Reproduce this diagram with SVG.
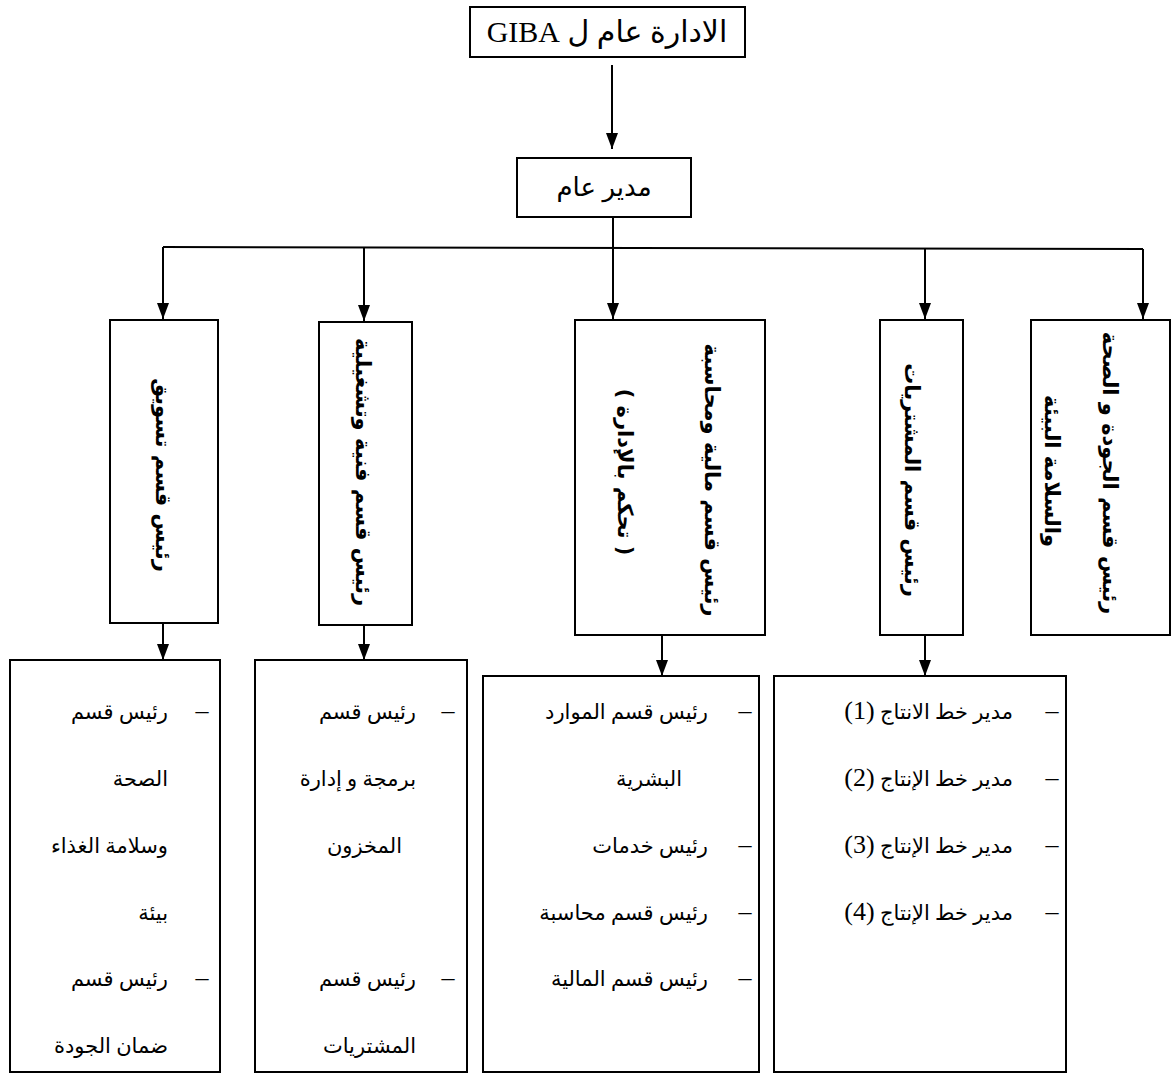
<svg xmlns="http://www.w3.org/2000/svg" width="1172" height="1077" viewBox="0 0 1172 1077">
<style>
.box{fill:#fff;stroke:#000;stroke-width:2}
.ln{fill:none;stroke:#000;stroke-width:2}
.t{font-family:"Liberation Serif","DejaVu Sans",serif;fill:#000}
.v{font-family:"DejaVu Sans",sans-serif;font-weight:bold;font-size:21px;fill:#000;text-anchor:middle;dominant-baseline:central}
.l{font-family:"Liberation Serif","DejaVu Sans",serif;font-size:21px;fill:#000;direction:rtl;text-anchor:start}
.n{font-size:26px}
.d{font-family:"Liberation Serif",serif;font-size:26px;fill:#000;text-anchor:middle}
</style>
<defs>
<marker id="ah" markerUnits="userSpaceOnUse" markerWidth="16" markerHeight="12" refX="16" refY="6" orient="auto">
<path d="M0,0 L16,6 L0,12 z" fill="#000"/>
</marker>
</defs>
<rect width="1172" height="1077" fill="#fff"/>
<g id="connectors">
<line class="ln" x1="612" y1="65" x2="612" y2="149" marker-end="url(#ah)"/>
<line class="ln" x1="613" y1="217" x2="613" y2="248"/>
<line class="ln" x1="163" y1="247" x2="1143" y2="249"/>
<line class="ln" x1="163" y1="247" x2="163" y2="319" marker-end="url(#ah)"/>
<line class="ln" x1="364" y1="247" x2="364" y2="321" marker-end="url(#ah)"/>
<line class="ln" x1="613" y1="248" x2="613" y2="319" marker-end="url(#ah)"/>
<line class="ln" x1="925" y1="248" x2="925" y2="319" marker-end="url(#ah)"/>
<line class="ln" x1="1143" y1="249" x2="1143" y2="319" marker-end="url(#ah)"/>
<line class="ln" x1="163" y1="623" x2="163" y2="660" marker-end="url(#ah)"/>
<line class="ln" x1="364" y1="625" x2="364" y2="660" marker-end="url(#ah)"/>
<line class="ln" x1="662" y1="635" x2="662" y2="676" marker-end="url(#ah)"/>
<line class="ln" x1="925" y1="635" x2="925" y2="676" marker-end="url(#ah)"/>
</g>
<g id="n-top">
<rect class="box" x="470" y="7" width="275" height="50"/>
<text class="t" x="607" y="42" font-size="30" text-anchor="middle" direction="rtl">الادارة عام ل GIBA</text>
</g>
<g id="n-gm">
<rect class="box" x="517" y="158" width="174" height="59"/>
<text class="t" x="604" y="196" font-size="26" text-anchor="middle" direction="rtl">مدير عام</text>
</g>
<g id="n-marketing">
<rect class="box" x="110" y="320" width="108" height="303"/>
<text class="v" transform="rotate(90 163 475)" x="163" y="475">رئيس قسم تسويق</text>
</g>
<g id="n-tech">
<rect class="box" x="319" y="322" width="93" height="303"/>
<text class="v" transform="rotate(90 363 472)" x="363" y="472">رئيس قسم فنية وتشغيلية</text>
</g>
<g id="n-finance">
<rect class="box" x="575" y="320" width="190" height="315"/>
<text class="v" transform="rotate(90 712 480)" x="712" y="480">رئيس قسم مالية ومحاسبة</text>
<text class="v" transform="rotate(90 625 472)" x="625" y="472">( تحكم بالإدارة )</text>
</g>
<g id="n-purchase">
<rect class="box" x="880" y="320" width="83" height="315"/>
<text class="v" transform="rotate(90 912 480)" x="912" y="480">رئيس قسم المشتريات</text>
</g>
<g id="n-quality">
<rect class="box" x="1031" y="320" width="139" height="315"/>
<text class="v" transform="rotate(90 1110 473)" x="1110" y="473">رئيس قسم الجودة و الصحة</text>
<text class="v" transform="rotate(90 1052 471)" x="1052" y="471">والسلامة البيئة</text>
</g>
<g id="n-sub1">
<rect class="box" x="10" y="660" width="210" height="412"/>
<text class="d" x="202" y="719">–</text>
<text class="l" x="168" y="719">رئيس قسم</text>
<text class="l" x="168" y="786">الصحة</text>
<text class="l" x="168" y="853">وسلامة الغذاء</text>
<text class="l" x="168" y="920">بيئة</text>
<text class="d" x="202" y="986">–</text>
<text class="l" x="168" y="986">رئيس قسم</text>
<text class="l" x="168" y="1053">ضمان الجودة</text>
</g>
<g id="n-sub2">
<rect class="box" x="255" y="660" width="212" height="412"/>
<text class="d" x="448" y="719">–</text>
<text class="l" x="416" y="719">رئيس قسم</text>
<text class="l" x="416" y="786">برمجة و إدارة</text>
<text class="l" x="402" y="853">المخزون</text>
<text class="d" x="448" y="986">–</text>
<text class="l" x="416" y="986">رئيس قسم</text>
<text class="l" x="416" y="1053">المشتريات</text>
</g>
<g id="n-sub3">
<rect class="box" x="483" y="676" width="276" height="396"/>
<text class="d" x="745" y="719">–</text>
<text class="l" x="708" y="719">رئيس قسم الموارد</text>
<text class="l" x="682" y="786">البشرية</text>
<text class="d" x="745" y="853">–</text>
<text class="l" x="708" y="853">رئيس خدمات</text>
<text class="d" x="745" y="920">–</text>
<text class="l" x="708" y="920">رئيس قسم محاسبة</text>
<text class="d" x="745" y="986">–</text>
<text class="l" x="708" y="986">رئيس قسم المالية</text>
</g>
<g id="n-sub4">
<rect class="box" x="774" y="676" width="292" height="396"/>
<text class="d" x="1052" y="719">–</text>
<text class="l" x="1013" y="719">مدير خط الانتاج <tspan class="n">(1)</tspan></text>
<text class="d" x="1052" y="786">–</text>
<text class="l" x="1013" y="786">مدير خط الإنتاج <tspan class="n">(2)</tspan></text>
<text class="d" x="1052" y="853">–</text>
<text class="l" x="1013" y="853">مدير خط الإنتاج <tspan class="n">(3)</tspan></text>
<text class="d" x="1052" y="920">–</text>
<text class="l" x="1013" y="920">مدير خط الإنتاج <tspan class="n">(4)</tspan></text>
</g>
</svg>
